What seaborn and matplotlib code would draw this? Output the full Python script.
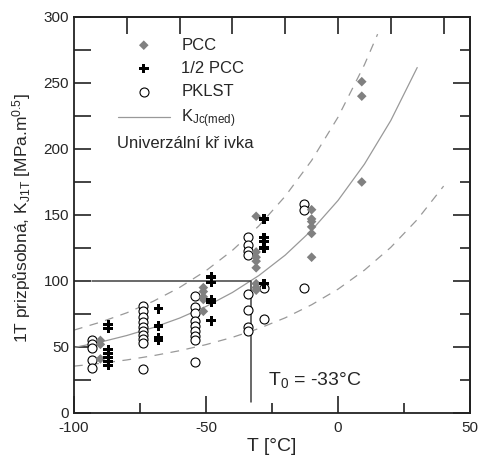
import matplotlib
matplotlib.use('Agg')
import matplotlib.pyplot as plt
import seaborn as sns

# PCC (gray diamonds)
pcc_t = [-90, -90, -90,
         -51, -51, -51, -51, -51,
         -31, -31, -31, -31, -31, -31, -31, -31,
         -10, -10, -10, -10, -10, -10,
         9, 9, 9]
pcc_k = [55, 52, 41,
         95, 92, 88, 86, 77,
         149, 122, 118, 115, 110, 98, 95, 93,
         154, 147, 145, 141, 136, 118,
         251, 240, 175]

# 1/2 PCC (black plus)
half_t = [-87, -87, -87, -87, -87, -87, -87,
          -68, -68, -68, -68,
          -48, -48, -48, -48, -48,
          -28, -28, -28, -28, -28]
half_k = [67, 64, 48, 45, 42, 39, 36,
          79, 66, 57, 55,
          103, 99, 86, 84, 70,
          147, 133, 130, 125, 98]

# PKLST (open circles)
pklst_t = [-93, -93, -93, -93, -93,
           -74, -74, -74, -74, -74, -74, -74, -74, -74, -74,
           -54, -54, -54, -54, -54, -54, -54, -54, -54,
           -34, -34, -34, -34, -34, -34, -34, -34,
           -28, -28,
           -13, -13, -13]
pklst_k = [55, 52, 49, 40, 34,
           81, 77, 73, 69, 65, 62, 59, 56, 53, 33,
           89, 80, 76, 70, 66, 62, 58, 55, 39,
           133, 127, 123, 120, 90, 78, 65, 62,
           95, 71,
           158, 154, 95]

# master curve and tolerance bounds
med_t = [-100, -90, -80, -70, -60, -50, -40, -30, -20, -10, 0, 10, 20, 30]
med_k = [49.6, 53.7, 58.7, 64.7, 71.9, 80.7, 91.3, 104.1, 119.6, 138.4, 161.0, 188.5, 221.6, 261.7]
upper_t = [-100, -90, -80, -70, -60, -50, -40, -30, -20, -10, 0, 10, 15]
upper_k = [62.8, 68.8, 75.9, 84.6, 95.1, 107.8, 123.2, 141.7, 164.2, 191.3, 224.1, 263.8, 287.0]
lower_t = [-100, -90, -80, -70, -60, -50, -40, -30, -20, -10, 0, 10, 20, 30, 40]
lower_k = [35.5, 37.6, 40.2, 43.4, 47.2, 51.8, 57.3, 64.0, 72.1, 82.0, 93.8, 108.2, 125.5, 146.5, 171.9]

# T0 marker lines
t0_line_t = [-93, -33, -33]
t0_line_k = [100, 100, 8]

sns.set_style('ticks')
plt.rcParams['font.family'] = ['Liberation Sans', 'DejaVu Sans']
plt.rcParams['mathtext.fontset'] = 'custom'
plt.rcParams['mathtext.rm'] = 'Liberation Sans'
plt.rcParams['mathtext.it'] = 'Liberation Sans:italic'
plt.rcParams['axes.unicode_minus'] = False

fig, ax = plt.subplots(figsize=(4.78, 4.63), dpi=100)
fig.subplots_adjust(left=0.1548, right=0.9833, bottom=0.108, top=0.9633)

sns.scatterplot(x=pcc_t, y=pcc_k, marker='D', s=24, color='#808080',
                edgecolor='none', ax=ax, label='PCC', zorder=4)
sns.scatterplot(x=half_t, y=half_k, marker='P', s=50, color='black',
                edgecolor='none', ax=ax, label='1/2 PCC', zorder=4)
sns.scatterplot(x=pklst_t, y=pklst_k, marker='o', s=42, color='white',
                edgecolor='black', linewidth=0.8, ax=ax, label='PKLST', zorder=3)
sns.lineplot(x=med_t, y=med_k, color='#999999', lw=0.9, ax=ax,
             label=r'K$_{\mathrm{Jc(med)}}$', sort=False, estimator=None)
sns.lineplot(x=upper_t, y=upper_k, color='#999999', lw=0.9, ax=ax,
             linestyle=(0, (7, 6)), sort=False, estimator=None)
sns.lineplot(x=lower_t, y=lower_k, color='#999999', lw=0.9, ax=ax,
             linestyle=(0, (7, 6)), sort=False, estimator=None)
ax.plot(t0_line_t, t0_line_k, color='#404040', lw=1.1)

ax.set_xlim(-100, 50)
ax.set_ylim(0, 300)
ax.set_xticks([-100, -50, 0, 50])
ax.set_xticks([-75, -25, 25], minor=True)
ax.set_yticks(range(0, 301, 50))
ax.set_yticks(range(25, 300, 50), minor=True)
ax.tick_params(axis='both', which='both', direction='in', labelsize=11, width=1.2, color='#222222')
ax.tick_params(axis='y', which='both', length=12)
ax.tick_params(axis='x', which='major', length=12, pad=6)
ax.tick_params(axis='x', which='minor', length=7)
for sp in ax.spines.values():
    sp.set_visible(True)
    sp.set_linewidth(1.3)
    sp.set_color('#222222')

secy = ax.secondary_yaxis('right')
secy.set_yticks(range(0, 301, 50))
secy.set_yticks(range(25, 300, 50), minor=True)
secy.tick_params(which='both', direction='in', labelright=False, width=1.2, color='#222222')
secy.tick_params(which='major', length=12)
secy.tick_params(which='minor', length=7)
secy.spines['right'].set_linewidth(1.3)

secx = ax.secondary_xaxis('top')
secx.set_xticks(range(-80, 41, 20))
secx.tick_params(direction='in', length=12, width=1.2, labeltop=False, color='#222222')
secx.spines['top'].set_linewidth(1.3)

ax.set_xlabel('T [°C]', fontsize=14, labelpad=2)
ax.set_ylabel(r'1T prizpůsobná, K$_{\mathrm{J1T}}$ [MPa.m$^{\mathrm{0.5}}$]', fontsize=12.5)
ax.yaxis.set_label_coords(-0.104, 0.492)

ax.text(-26.5, 25, r'T$_{\mathrm{0}}$ = -33°C', fontsize=14, va='center', ha='left')
ax.text(-83.7, 204.5, 'Univerzální kř ivka', fontsize=12, va='center', ha='left')

handles, labels = ax.get_legend_handles_labels()
order = ['PCC', '1/2 PCC', 'PKLST', r'K$_{\mathrm{Jc(med)}}$']
hl = dict(zip(labels, handles))
ax.legend([hl[l] for l in order], order, loc='upper left',
          bbox_to_anchor=(0.111, 0.948), frameon=False, fontsize=12,
          handlelength=3.1, handletextpad=0.7, labelspacing=0.5,
          borderpad=0, borderaxespad=0)

fig.savefig('out.png', dpi=100)
